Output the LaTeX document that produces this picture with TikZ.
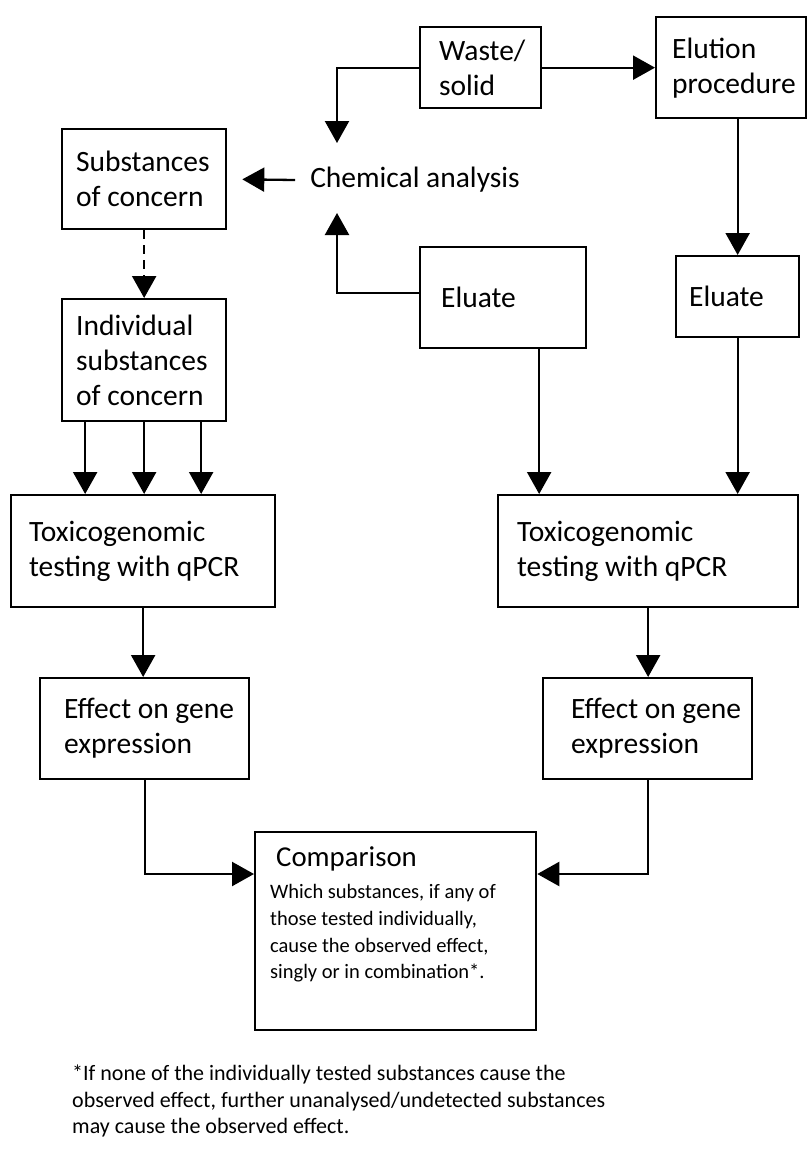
\documentclass[tikz,border=0pt]{standalone}
\usepackage{fontspec}
\setmainfont{Carlito}
\usetikzlibrary{arrows.meta, positioning, calc}

\begin{document}
\begin{tikzpicture}[x=1pt, y=-1pt,
  box/.style={draw, line width=2.3pt, align=flush left, anchor=north west, inner ysep=0pt, font=\fontsize{29.5}{35}\selectfont},
  flow/.style={line width=2.3pt, -{Triangle[length=22pt, width=24pt]}}]
  \useasboundingbox (0,0) rectangle (807,1171);

  \node[box, inner xsep=19pt, text width=83pt, minimum height=81pt] (waste) at (419,26) {Waste/\\solid};
  \node[box, inner xsep=16pt, text width=118pt, minimum height=101pt] (elution) at (655,16) {Elution\\procedure};
  \node[inner xsep=15pt, font=\fontsize{29.5}{35}\selectfont] (chem) at (415,180) {Chemical analysis};
  \node[box, inner xsep=14pt, text width=136pt, minimum height=100pt] (subst) at (61,128) {Substances\\\mbox{of concern}};
  \node[box, inner xsep=14pt, text width=136pt, minimum height=122pt] (indiv) at (61,298) {Individual\\substances\\\mbox{of concern}};
  \node[box, inner xsep=21pt, text width=124pt, minimum height=101pt] (eluA) at (419,246) {Eluate};
  \node[box, inner xsep=13pt, text width=97pt, minimum height=81pt] (eluB) at (675,255) {Eluate};
  \node[box, inner xsep=18pt, text width=228pt, minimum height=112pt] (toxA) at (10,494) {Toxicogenomic\\\mbox{testing with qPCR}};
  \node[box, inner xsep=19pt, text width=262pt, minimum height=112pt] (toxB) at (497,494) {Toxicogenomic\\\mbox{testing with qPCR}};
  \node[box, inner xsep=24pt, text width=161pt, minimum height=101pt] (effA) at (39,677) {\mbox{Effect on gene}\\expression};
  \node[box, inner xsep=28pt, text width=153pt, minimum height=101pt] (effB) at (542,677) {\mbox{Effect on gene}\\expression};
  \node[box, inner sep=15pt] (comp) at (254,831) {\parbox[c][168pt][t]{251pt}{\raggedright
    \fontsize{28.8}{32}\selectfont\hspace*{6pt}Comparison\par\vspace{5pt}
    \fontsize{20.5}{26.7}\selectfont Which substances, if any of\\those tested individually,\\cause the observed effect,\\singly or in combination*.}};
  \node[anchor=north west, inner sep=0pt, align=left, font=\fontsize{22}{26.5}\selectfont] (note) at (72,1065)
    {*If none of the individually tested substances cause the\\observed effect, further unanalysed/undetected substances\\may cause the observed effect.};

  \coordinate (chemtop) at (337,143);
  \coordinate (chembot) at (337,213);
  \coordinate (eluAout) at ($(eluA.south)+(36,0)$);
  \coordinate (compL) at ($(comp.north west)+(0,43)$);
  \coordinate (compR) at ($(comp.north east)+(0,43)$);

  \draw[flow] (waste.east) -- (elution.west);
  \draw[flow] (waste.west) -| (chemtop);
  \draw[flow] ([yshift=5pt]eluA.west) -| (chembot);
  \draw[flow, shorten >=15pt] (chem.west) -- (subst.east);
  \draw[flow, dash pattern=on 9pt off 6pt] (subst.south) -- (indiv.north);
  \draw[flow] (eluB.north |- elution.south) -- (eluB.north);
  \foreach \dx in {-59,0,57} {
    \coordinate (out) at ($(indiv.south)+(\dx,0)$);
    \draw[flow] (out) -- (out |- toxA.north);
  }
  \draw[flow] (eluAout) -- (eluAout |- toxB.north);
  \draw[flow] (eluB.south) -- (eluB.south |- toxB.north);
  \draw[flow] (toxA.south) -- (toxA.south |- effA.north);
  \draw[flow] (toxB.south) -- (toxB.south |- effB.north);
  \draw[flow] (effA.south) |- (compL);
  \draw[flow] (effB.south) |- (compR);
\end{tikzpicture}
\end{document}
